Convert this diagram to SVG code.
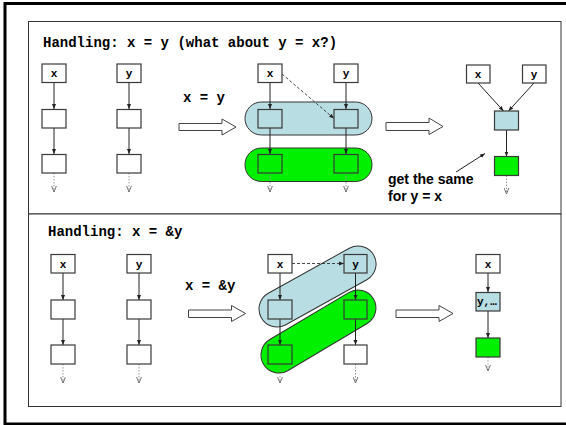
<svg xmlns="http://www.w3.org/2000/svg" width="566" height="425" viewBox="0 0 566 425">
<defs>
<style>
.frame{fill:#fff;stroke:#000;stroke-width:3}
.panel{fill:#fff;stroke:#333;stroke-width:1}
.box{stroke:#3a3a3a;stroke-width:1.2}
.w{fill:#fff}
.b{fill:#b8dde2}
.g{fill:#00f000}
.pill{stroke:#333;stroke-width:1}
.mono{font-family:"Liberation Mono","Courier New",monospace;font-weight:bold;fill:#000}
.lbl{font-size:11px;text-anchor:middle}
.ttl{font-size:14px}
.sans{font-family:"Liberation Sans",Arial,sans-serif;font-weight:bold;font-size:14px;fill:#000}
.arr{stroke:#222;stroke-width:1;fill:none;marker-end:url(#ah)}
.dash{stroke:#333;stroke-width:0.9;fill:none;stroke-dasharray:3 2;marker-end:url(#ah)}
.dot{stroke:#999;stroke-width:1;fill:none;stroke-dasharray:1.5 1.5;marker-end:url(#oh)}
.blk{fill:#fff;stroke:#444;stroke-width:1}
</style>
<marker id="ah" viewBox="0 0 10 10" refX="10" refY="5" markerWidth="5" markerHeight="5" markerUnits="userSpaceOnUse" orient="auto">
<path d="M0,1 L10,5 L0,9 z" fill="#222"/>
</marker>
<marker id="oh" viewBox="0 0 10 10" refX="10" refY="5" markerWidth="6" markerHeight="6" markerUnits="userSpaceOnUse" orient="auto">
<path d="M0,1 L10,5 L0,9" fill="none" stroke="#666" stroke-width="1.5"/>
</marker>
</defs>
<rect x="0" y="0" width="566" height="425" fill="#fff"/>
<rect class="frame" x="5" y="3.5" width="600" height="420.5"/>
<rect class="panel" x="28.5" y="21.5" width="532.5" height="192.5"/>
<rect class="panel" x="28.5" y="214" width="532.5" height="192.5"/>

<g id="titles">
<text class="mono ttl" x="43" y="46.5">Handling: x = y (what about y = x?)</text>
<text class="mono ttl" x="48" y="235.5">Handling: x = &amp;y</text>
<text class="mono ttl" x="183" y="102">x = y</text>
<text class="mono ttl" x="185" y="289.5">x = &amp;y</text>
<text class="sans" x="388" y="184">get the same</text>
<text class="sans" x="388" y="200.5">for y = x</text>
</g>

<g id="block-arrows">
<polygon class="blk" points="179,123.5 222,123.5 222,119 236,127 222,135 222,130.5 179,130.5"/>
<polygon class="blk" points="386,122.5 429,122.5 429,118 443,126.5 429,134.5 429,130.5 386,130.5"/>
<polygon class="blk" points="188.5,310 231.5,310 231.5,305.5 245.5,313.5 231.5,321.5 231.5,317.5 188.5,317.5"/>
<polygon class="blk" points="396,310 439,310 439,305.5 453,313.5 439,321.5 439,317.5 396,317.5"/>
</g>

<g id="pills">
<rect class="pill b" x="245" y="102" width="127" height="33" rx="16.5"/>
<rect class="pill g" x="245" y="148" width="127" height="33.5" rx="16.5"/>
<rect class="pill b" x="253.2" y="268.5" width="128.7" height="36" rx="18" transform="rotate(-29.05 317.5 286.5)"/>
<rect class="pill g" x="254.5" y="313.5" width="127.9" height="36" rx="18" transform="rotate(-30.75 318.5 331.5)"/>
</g>

<g id="connectors">
<line class="arr" x1="54" y1="82.5" x2="54" y2="109"/>
<line class="arr" x1="54" y1="128" x2="54" y2="154"/>
<line class="dot" x1="54" y1="173" x2="54" y2="192"/>
<line class="arr" x1="129" y1="82.5" x2="129" y2="109"/>
<line class="arr" x1="129" y1="128" x2="129" y2="154"/>
<line class="dot" x1="129" y1="173" x2="129" y2="192"/>
<line class="arr" x1="270" y1="82.5" x2="270" y2="109"/>
<line class="arr" x1="270" y1="128" x2="270" y2="154"/>
<line class="dot" x1="270" y1="173" x2="270" y2="192"/>
<line class="arr" x1="346" y1="82.5" x2="346" y2="109"/>
<line class="arr" x1="346" y1="128" x2="346" y2="154"/>
<line class="dot" x1="346" y1="173" x2="346" y2="192"/>
<line class="dash" x1="282" y1="74" x2="334" y2="118.5"/>
<line class="arr" x1="478" y1="83" x2="503.5" y2="111"/>
<line class="arr" x1="534" y1="83" x2="508.5" y2="111"/>
<line class="arr" x1="506.5" y1="130" x2="506.5" y2="156.5"/>
<line class="dot" x1="506.5" y1="175.5" x2="506.5" y2="194"/>
<line class="arr" x1="456" y1="172" x2="485" y2="153.5"/>
<line class="arr" x1="63" y1="273" x2="63" y2="300"/>
<line class="arr" x1="63" y1="319" x2="63" y2="345"/>
<line class="dot" x1="63" y1="364" x2="63" y2="383"/>
<line class="arr" x1="139" y1="273" x2="139" y2="300"/>
<line class="arr" x1="139" y1="319" x2="139" y2="345"/>
<line class="dot" x1="139" y1="364" x2="139" y2="383"/>
<line class="arr" x1="280" y1="273" x2="280" y2="300"/>
<line class="arr" x1="280" y1="319" x2="280" y2="345"/>
<line class="dot" x1="280" y1="364" x2="280" y2="383"/>
<line class="arr" x1="355.5" y1="273" x2="355.5" y2="300"/>
<line class="arr" x1="355.5" y1="319" x2="355.5" y2="345"/>
<line class="dot" x1="355.5" y1="364" x2="355.5" y2="383"/>
<line class="dash" x1="292" y1="263.5" x2="344" y2="263.5"/>
<line class="arr" x1="488" y1="273" x2="488" y2="292"/>
<line class="arr" x1="488" y1="311" x2="488" y2="338"/>
<line class="dot" x1="488" y1="357" x2="488" y2="371"/>
</g>

<g id="t-l-x"><rect class="box w" x="42" y="64" width="24" height="18.5"/><text class="mono lbl" x="54" y="77">x</text></g>
<g id="t-l-x1"><rect class="box w" x="42" y="109.5" width="24" height="18.5"/></g>
<g id="t-l-x2"><rect class="box w" x="42" y="154.5" width="24" height="18.5"/></g>
<g id="t-l-y"><rect class="box w" x="117" y="64" width="24" height="18.5"/><text class="mono lbl" x="129" y="77">y</text></g>
<g id="t-l-y1"><rect class="box w" x="117" y="109.5" width="24" height="18.5"/></g>
<g id="t-l-y2"><rect class="box w" x="117" y="154.5" width="24" height="18.5"/></g>

<g id="t-m-x"><rect class="box w" x="258" y="64" width="24" height="18.5"/><text class="mono lbl" x="270" y="77">x</text></g>
<g id="t-m-x1"><rect class="box b" x="258" y="109.5" width="24" height="18.5"/></g>
<g id="t-m-x2"><rect class="box g" x="258" y="154.5" width="24" height="18.5"/></g>
<g id="t-m-y"><rect class="box w" x="334" y="64" width="24" height="18.5"/><text class="mono lbl" x="346" y="77">y</text></g>
<g id="t-m-y1"><rect class="box b" x="334" y="109.5" width="24" height="18.5"/></g>
<g id="t-m-y2"><rect class="box g" x="334" y="154.5" width="24" height="18.5"/></g>

<g id="t-r-x"><rect class="box w" x="466.5" y="65" width="23.5" height="18"/><text class="mono lbl" x="478" y="78">x</text></g>
<g id="t-r-y"><rect class="box w" x="522.5" y="65" width="23.5" height="18"/><text class="mono lbl" x="534" y="78">y</text></g>
<g id="t-r-1"><rect class="box b" x="494.5" y="111" width="24" height="19"/></g>
<g id="t-r-2"><rect class="box g" x="494.5" y="156.5" width="24" height="19"/></g>

<g id="b-l-x"><rect class="box w" x="51" y="254.5" width="24" height="18.5"/><text class="mono lbl" x="63" y="267.5">x</text></g>
<g id="b-l-x1"><rect class="box w" x="51" y="300" width="24" height="19"/></g>
<g id="b-l-x2"><rect class="box w" x="51" y="345" width="24" height="19"/></g>
<g id="b-l-y"><rect class="box w" x="127" y="254.5" width="24" height="18.5"/><text class="mono lbl" x="139" y="267.5">y</text></g>
<g id="b-l-y1"><rect class="box w" x="127" y="300" width="24" height="19"/></g>
<g id="b-l-y2"><rect class="box w" x="127" y="345" width="24" height="19"/></g>

<g id="b-m-x"><rect class="box w" x="268" y="254.5" width="24" height="18.5"/><text class="mono lbl" x="280" y="267.5">x</text></g>
<g id="b-m-x1"><rect class="box b" x="268" y="300" width="24" height="19"/></g>
<g id="b-m-x2"><rect class="box g" x="268" y="345" width="24" height="19"/></g>
<g id="b-m-y"><rect class="box b" x="344" y="254.5" width="23" height="18.5"/><text class="mono lbl" x="355.5" y="267.5">y</text></g>
<g id="b-m-y1"><rect class="box g" x="344" y="300" width="23" height="19"/></g>
<g id="b-m-y2"><rect class="box w" x="344" y="345" width="23" height="19"/></g>

<g id="b-r-x"><rect class="box w" x="476" y="254.5" width="24" height="18.5"/><text class="mono lbl" x="488" y="267.5">x</text></g>
<g id="b-r-1"><rect class="box b" x="476" y="292.5" width="24" height="18.5"/><text class="mono" font-size="11" x="477" y="305">y,…</text></g>
<g id="b-r-2"><rect class="box g" x="476" y="338" width="24" height="19"/></g>
</svg>
